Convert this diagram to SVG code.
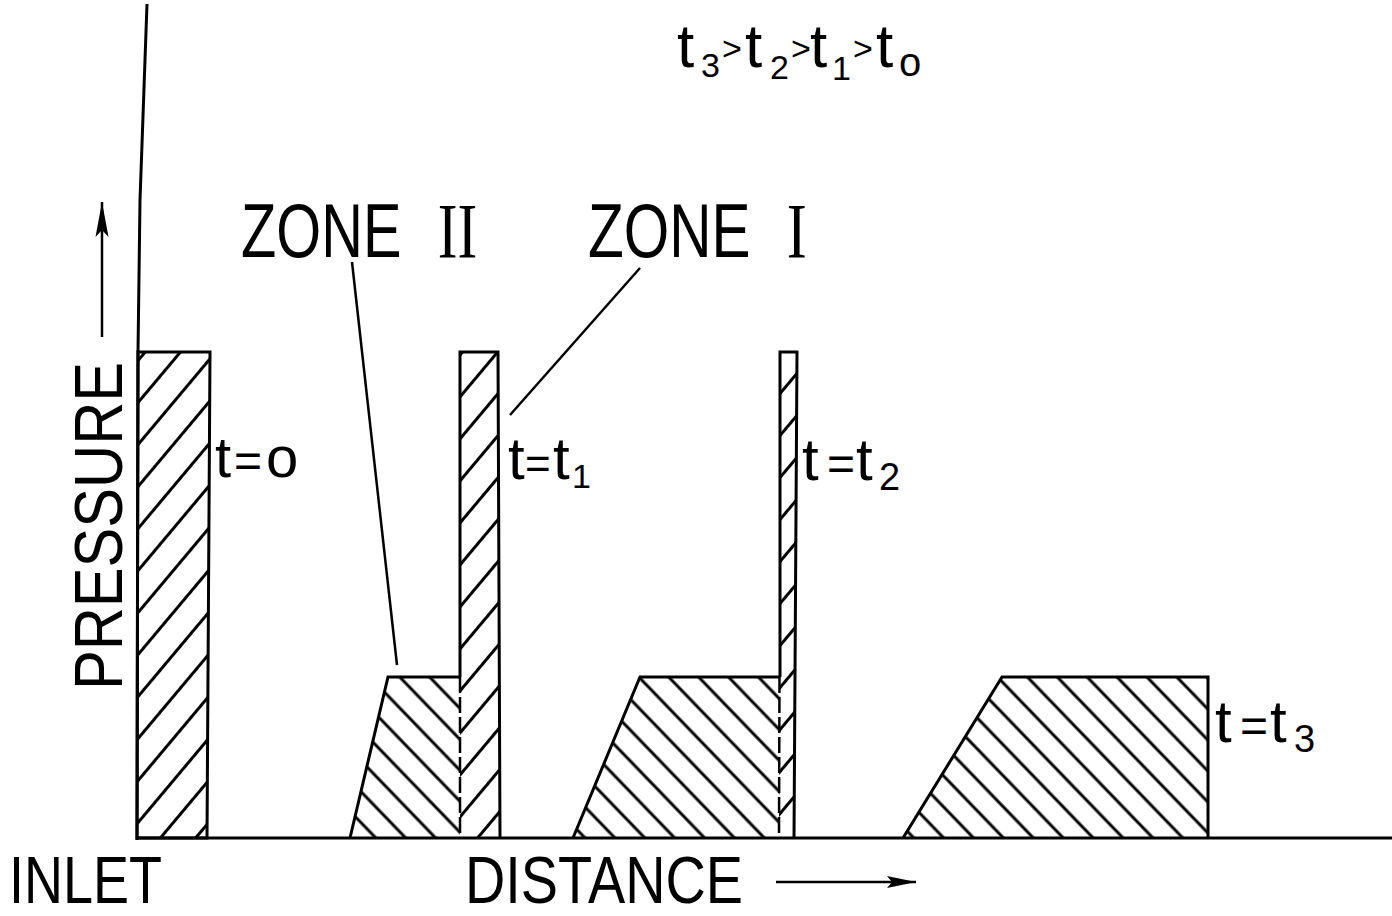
<svg xmlns="http://www.w3.org/2000/svg" width="1392" height="916" viewBox="0 0 1392 916">
<style>
.out{fill:none;stroke:#000;stroke-width:3;stroke-linejoin:miter}
.ln{fill:none;stroke:#000;stroke-width:2.5}
.lbl{font-family:"Liberation Sans",Arial,sans-serif;fill:#000}
.rom{font-family:"Liberation Serif","Times New Roman",serif}
</style>
<defs>
<pattern id="hatchF" patternUnits="userSpaceOnUse" width="40" height="27" patternTransform="rotate(-50)">
<line x1="-5" y1="13.5" x2="45" y2="13.5" stroke="#000" stroke-width="2.8"/>
</pattern>
<pattern id="hatchB" patternUnits="userSpaceOnUse" width="40" height="21.5" patternTransform="rotate(46)">
<line x1="-5" y1="10.75" x2="45" y2="10.75" stroke="#000" stroke-width="2.8"/>
</pattern>
<marker id="arrV" markerWidth="36" markerHeight="16" refX="35" refY="8" orient="auto" markerUnits="userSpaceOnUse">
<path d="M0,1.5 L35,8 L0,14.5 L7,8 Z" fill="#000"/>
</marker>
<marker id="arrH" markerWidth="30" markerHeight="14" refX="29" refY="7" orient="auto" markerUnits="userSpaceOnUse">
<path d="M0,1 L29,7 L0,13 L5,7 Z" fill="#000"/>
</marker>
</defs>
<rect width="1392" height="916" fill="#fff"/>

<g id="axes">
<polyline class="out" points="147,4 140,200 138,352 137,840"/>
<line class="out" x1="136" y1="838" x2="1392" y2="838"/>
</g>

<g id="profile-t0">
<polygon points="138,352 210,352 207,838 137,838" fill="url(#hatchF)"/>
<polygon class="out" points="138,352 210,352 207,838 137,838"/>
</g>

<g id="profile-t1">
<polygon points="350,838 388,677 460,677 460,838" fill="url(#hatchB)"/>
<polygon points="460,352 498,352 500,838 460,838" fill="url(#hatchF)"/>
<polyline class="out" points="350,838 388,677 460,677"/>
<polyline class="out" points="460,677 460,352 498,352 500,838"/>
<line x1="460" y1="677" x2="460" y2="838" stroke="#000" stroke-width="2.5" stroke-dasharray="16,4"/>
</g>

<g id="profile-t2">
<polygon points="573,838 640,677 780,677 780,838" fill="url(#hatchB)"/>
<polygon points="780,352 797,352 794,838 779,838" fill="url(#hatchF)"/>
<polyline class="out" points="573,838 640,677 780,677"/>
<polyline class="out" points="780,677 780,352 797,352 794,838"/>
<line x1="779.5" y1="677" x2="779" y2="838" stroke="#000" stroke-width="2.5" stroke-dasharray="16,4"/>
</g>

<g id="profile-t3">
<polygon points="903,838 1002,677 1208,677 1208,838" fill="url(#hatchB)"/>
<polyline class="out" points="903,838 1002,677 1208,677 1208,838"/>
</g>

<g id="connectors">
<line class="ln" x1="352" y1="262" x2="397" y2="665"/>
<line class="ln" x1="640" y1="268" x2="510" y2="415"/>
<line class="ln" x1="102" y1="337" x2="102" y2="202" marker-end="url(#arrV)"/>
<line class="ln" x1="776" y1="882" x2="916" y2="882" marker-end="url(#arrH)"/>
</g>

<g id="zone2-label">
<text class="lbl" transform="translate(241,257) scale(0.76,1)" font-size="76">ZONE<tspan class="rom" x="259" font-size="78">II</tspan></text>
</g>
<g id="zone1-label">
<text class="lbl" transform="translate(588,257) scale(0.77,1)" font-size="76">ZONE<tspan class="rom" x="258" font-size="78">I</tspan></text>
</g>

<g id="order-label">
<text class="lbl" font-size="62"><tspan x="677" y="67">t</tspan><tspan x="701" y="77" font-size="34">3</tspan><tspan x="722" y="60" font-size="34">&gt;</tspan><tspan x="745" y="67">t</tspan><tspan x="770" y="79" font-size="34">2</tspan><tspan x="791" y="60" font-size="34">&gt;</tspan><tspan x="810" y="67">t</tspan><tspan x="832" y="80" font-size="34">1</tspan><tspan x="853" y="60" font-size="34">&gt;</tspan><tspan x="876" y="67">t</tspan><tspan x="899" y="76" font-size="40">o</tspan></text>
</g>

<g id="t0-label">
<text class="lbl" font-size="58"><tspan x="215" y="477">t</tspan><tspan x="234" y="477" font-size="48">=</tspan><tspan x="266" y="477">o</tspan></text>
</g>
<g id="t1-label">
<text class="lbl" font-size="60"><tspan x="508" y="479">t</tspan><tspan x="525" y="479" font-size="44">=</tspan><tspan x="553" y="479">t</tspan><tspan x="572" y="488" font-size="34">1</tspan></text>
</g>
<g id="t2-label">
<text class="lbl" font-size="60"><tspan x="802" y="480">t</tspan><tspan x="827" y="480" font-size="48">=</tspan><tspan x="856" y="480">t</tspan><tspan x="879" y="490" font-size="38">2</tspan></text>
</g>
<g id="t3-label">
<text class="lbl" font-size="60"><tspan x="1215" y="742">t</tspan><tspan x="1240" y="742" font-size="48">=</tspan><tspan x="1270" y="742">t</tspan><tspan x="1294" y="752" font-size="38">3</tspan></text>
</g>

<g id="axis-labels">
<text class="lbl" x="9" y="903" font-size="67" textLength="153" lengthAdjust="spacingAndGlyphs">INLET</text>
<text class="lbl" x="465" y="903" font-size="67" textLength="278" lengthAdjust="spacingAndGlyphs">DISTANCE</text>
<text class="lbl" transform="translate(122,690) rotate(-90)" font-size="68" textLength="328" lengthAdjust="spacingAndGlyphs">PRESSURE</text>
</g>
</svg>
